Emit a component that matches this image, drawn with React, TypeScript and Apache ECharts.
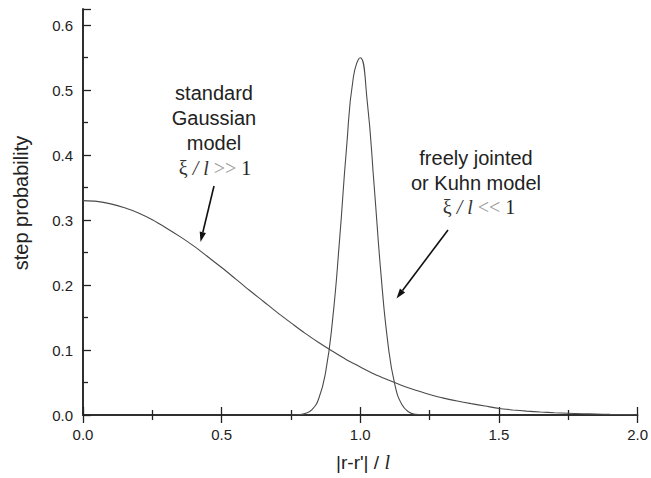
import React, { useEffect, useRef } from "react";
import * as echarts from "echarts";

const broadX = [0, 0.05, 0.1, 0.15, 0.2, 0.25, 0.3, 0.35, 0.4, 0.45, 0.5, 0.55, 0.6, 0.65, 0.7, 0.75, 0.8, 0.85, 0.9, 0.95, 1.0, 1.05, 1.1, 1.15, 1.2, 1.25, 1.3, 1.35, 1.4, 1.45, 1.5, 1.55, 1.6, 1.65, 1.7, 1.75, 1.8, 1.85, 1.9, 1.95, 2.0];
const broadY = [0.330, 0.3288, 0.325, 0.319, 0.311, 0.3005, 0.288, 0.2746, 0.260, 0.2436, 0.227, 0.2096, 0.192, 0.1751, 0.158, 0.1419, 0.126, 0.1116, 0.098, 0.0852, 0.074, 0.0631, 0.054, 0.0454, 0.038, 0.0317, 0.026, 0.0215, 0.0175, 0.0138, 0.010, 0.0078, 0.006, 0.0046, 0.0035, 0.0027, 0.002, 0.0015, 0.001, 0.0007, 0.0005];

const narrowX = [0.75, 0.775, 0.8, 0.825, 0.85, 0.875, 0.9, 0.925, 0.95, 0.975, 1.0, 1.025, 1.05, 1.075, 1.1, 1.125, 1.15, 1.175, 1.2, 1.225, 1.25];
const narrowY = [0.0001, 0.0004, 0.0021, 0.0079, 0.0251, 0.066, 0.146, 0.268, 0.409, 0.520, 0.550, 0.483, 0.353, 0.215, 0.109, 0.046, 0.016, 0.0047, 0.0011, 0.0002, 0.0];

const xTickLabels = ["0.0", "0.5", "1.0", "1.5", "2.0"];
const yTickLabels = ["0.0", "0.1", "0.2", "0.3", "0.4", "0.5", "0.6"];

const gaussLines = ["standard", "Gaussian", "model"];
const kuhnLines = ["freely jointed", "or Kuhn model"];

const SANS = "'Liberation Sans', Arial, Helvetica, sans-serif";
const SERIF = "'Liberation Serif', 'Times New Roman', serif";
const AX = "#222";
const CURVE = "#4a4a4a";

function arrow(x1: number, y1: number, x2: number, y2: number) {
  const dx = x2 - x1, dy = y2 - y1;
  const len = Math.sqrt(dx * dx + dy * dy);
  const ux = dx / len, uy = dy / len;
  const hl = 10, hw = 3.2;
  const bx = x2 - ux * hl, by = y2 - uy * hl;
  const px = -uy, py = ux;
  return [
    { type: "line", shape: { x1, y1, x2: bx, y2: by }, style: { stroke: "#111", lineWidth: 1.6 } },
    {
      type: "polygon",
      shape: { points: [[x2, y2], [bx + px * hw, by + py * hw], [bx - px * hw, by - py * hw]] },
      style: { fill: "#111" },
    },
  ];
}

function mathText(x: number, y: number, rel: string) {
  return {
    type: "text",
    x,
    y,
    style: {
      text: `{a|ξ }{b|/ l }{c|${rel}}{d| 1}`,
      align: "center",
      verticalAlign: "middle",
      rich: {
        a: { fontFamily: SERIF, fontSize: 20, fill: "#333" },
        b: { fontFamily: SERIF, fontStyle: "italic", fontSize: 20, fill: "#333" },
        c: { fontFamily: SERIF, fontSize: 20, fill: "#9a9a9a" },
        d: { fontFamily: SERIF, fontSize: 20, fill: "#222" },
      },
    },
  };
}

export default function App() {
  const ref = useRef<HTMLDivElement>(null);
  useEffect(() => {
    if (!ref.current) return;
    const chart = echarts.init(ref.current, null, { renderer: "svg" });
    const tickCommon = {
      axisLine: { show: true, lineStyle: { color: AX, width: 1.5 } },
      axisTick: { show: true, inside: true, length: 8, lineStyle: { color: AX, width: 1.3 } },
      minorTick: { show: true, splitNumber: 2, length: 5, lineStyle: { color: AX, width: 1.3 } },
      splitLine: { show: false },
      minorSplitLine: { show: false },
    };
    const graphics: any[] = [];
    gaussLines.forEach((t, i) => {
      graphics.push({
        type: "text",
        x: 214,
        y: 93 + i * 25,
        style: { text: t, font: `20px ${SANS}`, fill: "#222", align: "center", verticalAlign: "middle" },
      });
    });
    graphics.push(mathText(215, 168, ">>"));
    kuhnLines.forEach((t, i) => {
      graphics.push({
        type: "text",
        x: 476,
        y: 158 + i * 24.5,
        style: { text: t, font: `20px ${SANS}`, fill: "#222", align: "center", verticalAlign: "middle" },
      });
    });
    graphics.push(mathText(479, 207, "<<"));
    graphics.push(...arrow(214, 186, 200.5, 242));
    graphics.push(...arrow(448, 230, 396.5, 298.5));
    graphics.push({
      type: "text",
      x: 21,
      y: 203,
      rotation: Math.PI / 2,
      style: { text: "step probability", font: `20px ${SANS}`, fill: "#222", align: "center", verticalAlign: "middle" },
    });
    graphics.push({
      type: "text",
      x: 363,
      y: 462,
      style: {
        text: "{a||r-r'| / }{b|l}",
        align: "center",
        verticalAlign: "middle",
        rich: {
          a: { fontFamily: SANS, fontSize: 19, fill: "#222" },
          b: { fontFamily: SERIF, fontStyle: "italic", fontSize: 20, fill: "#222" },
        },
      },
    });

    chart.setOption({
      animation: false,
      backgroundColor: "#fff",
      grid: { left: 83, right: 10, top: 9, bottom: 63, containLabel: false },
      xAxis: [
        {
          type: "value",
          min: 0,
          max: 2,
          interval: 0.5,
          position: "bottom",
          ...tickCommon,
          axisLabel: {
            show: true,
            margin: 12,
            fontSize: 15,
            fontFamily: SANS,
            color: AX,
            formatter: (v: number) => xTickLabels[Math.round(v / 0.5)] ?? "",
          },
        },
        {
          type: "value",
          min: 0,
          max: 2,
          interval: 0.5,
          position: "top",
          ...tickCommon,
          axisLabel: { show: false },
        },
      ],
      yAxis: [
        {
          type: "value",
          min: 0,
          max: 0.625,
          interval: 0.1,
          position: "left",
          ...tickCommon,
          axisLabel: {
            show: true,
            margin: 10,
            fontSize: 15,
            fontFamily: SANS,
            color: AX,
            showMaxLabel: false,
            formatter: (v: number) => {
              const i = Math.round(v * 10);
              return Math.abs(v * 10 - i) < 1e-6 ? yTickLabels[i] ?? "" : "";
            },
          },
        },
        {
          type: "value",
          min: 0,
          max: 0.625,
          position: "right",
          axisLine: { show: true, lineStyle: { color: AX, width: 1.5 } },
          axisTick: { show: false },
          axisLabel: { show: false },
          splitLine: { show: false },
        },
      ],
      series: [
        {
          type: "line",
          xAxisIndex: 0,
          yAxisIndex: 0,
          data: broadX.map((x, i) => [x, broadY[i]]),
          smooth: 0.3,
          showSymbol: false,
          lineStyle: { color: CURVE, width: 1.1 },
        },
        {
          type: "line",
          xAxisIndex: 0,
          yAxisIndex: 0,
          data: narrowX.map((x, i) => [x, narrowY[i]]),
          smooth: true,
          showSymbol: false,
          lineStyle: { color: CURVE, width: 1.1 },
        },
      ],
      graphic: graphics,
    });
    return () => chart.dispose();
  }, []);
  return <div ref={ref} style={{ width: 651, height: 478, position: "absolute", left: 0, top: 0 }} />;
}
